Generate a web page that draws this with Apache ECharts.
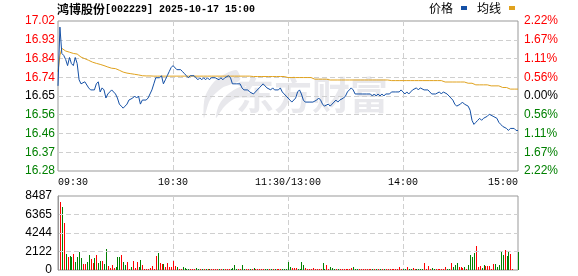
<!DOCTYPE html>
<html><head><meta charset="utf-8">
<script src="https://cdn.jsdelivr.net/npm/echarts@6/dist/echarts.min.js"></script>
<style>html,body{margin:0;padding:0;background:#fff}#c{width:578px;height:276px}</style>
</head><body><div id="c"></div>
<script>
const titleName = '鸿博股份';
const titleCode = '[002229] 2025-10-17 15:00';
const legendNames = ['价格', '均线'];
const priceTicks = ['16.28','16.37','16.46','16.56','16.65','16.74','16.84','16.93','17.02'];
const pctTicks = ['2.22%','1.67%','1.11%','0.56%','0.00%','0.56%','1.11%','1.67%','2.22%'];
const volTicks = ['0','2122','4244','6365','8487'];
const timeTickIndex = [0, 60, 120, 180, 240];
const timeTickLabels = ['09:30','10:30','11:30/13:00','14:00','15:00'];

const prices = [
16.70,16.99,16.86,16.85,16.83,16.80,16.84,16.81,16.80,16.84,
16.81,16.73,16.71,16.71,16.72,16.72,16.69,16.68,16.68,16.68,
16.71,16.72,16.67,16.69,16.68,16.64,16.66,16.67,16.68,16.68,
16.66,16.64,16.61,16.60,16.59,16.60,16.61,16.63,16.63,16.64,
16.65,16.64,16.65,16.61,16.63,16.63,16.63,16.64,16.66,16.68,
16.71,16.74,16.74,16.74,16.75,16.71,16.73,16.75,16.77,16.79,
16.80,16.80,16.78,16.78,16.78,16.77,16.76,16.75,16.74,16.75,
16.75,16.75,16.74,16.73,16.74,16.73,16.74,16.73,16.74,16.73,
16.74,16.74,16.74,16.74,16.73,16.74,16.73,16.74,16.74,16.75,
16.74,16.71,16.71,16.71,16.71,16.71,16.69,16.68,16.68,16.68,
16.67,16.67,16.66,16.67,16.67,16.69,16.70,16.71,16.70,16.69,
16.69,16.68,16.69,16.68,16.68,16.68,16.69,16.67,16.66,16.65,
16.64,16.63,16.62,16.62,16.64,16.67,16.68,16.66,16.63,16.62,
16.62,16.62,16.62,16.62,16.62,16.63,16.64,16.63,16.61,16.60,
16.60,16.61,16.60,16.61,16.62,16.63,16.62,16.63,16.63,16.64,
16.65,16.67,16.68,16.69,16.68,16.66,16.66,16.66,16.66,16.66,
16.66,16.66,16.66,16.66,16.65,16.66,16.65,16.66,16.65,16.66,
16.65,16.66,16.66,16.66,16.67,16.67,16.67,16.67,16.67,16.68,
16.67,16.66,16.67,16.66,16.67,16.68,16.68,16.69,16.68,16.69,
16.69,16.68,16.68,16.68,16.67,16.66,16.66,16.66,16.66,16.67,
16.66,16.67,16.67,16.66,16.65,16.64,16.63,16.61,16.60,16.60,
16.61,16.62,16.61,16.61,16.60,16.58,16.53,16.51,16.52,16.53,
16.54,16.53,16.54,16.54,16.55,16.56,16.56,16.55,16.55,16.54,
16.52,16.51,16.50,16.50,16.49,16.48,16.49,16.49,16.49,16.48,
16.48
];

const avgPrices = [
16.770,16.850,16.885,16.882,16.872,16.869,16.866,16.862,16.860,16.859,
16.857,16.852,16.842,16.838,16.834,16.832,16.826,16.822,16.817,16.812,
16.811,16.806,16.806,16.802,16.800,16.795,16.793,16.790,16.787,16.786,
16.785,16.784,16.777,16.773,16.768,16.765,16.763,16.762,16.760,16.760,
16.757,16.756,16.754,16.752,16.750,16.749,16.749,16.749,16.749,16.749,
16.748,16.748,16.748,16.748,16.748,16.748,16.748,16.748,16.748,16.748,
16.748,16.748,16.748,16.748,16.748,16.748,16.748,16.748,16.748,16.748,
16.748,16.748,16.748,16.748,16.748,16.748,16.748,16.748,16.748,16.748,
16.748,16.748,16.748,16.748,16.748,16.748,16.748,16.748,16.748,16.748,
16.748,16.748,16.748,16.748,16.748,16.748,16.748,16.748,16.748,16.748,
16.748,16.746,16.746,16.746,16.746,16.746,16.746,16.746,16.746,16.746,
16.746,16.746,16.746,16.746,16.746,16.746,16.746,16.746,16.746,16.746,
16.741,16.741,16.741,16.741,16.741,16.741,16.741,16.741,16.741,16.741,
16.741,16.741,16.741,16.733,16.733,16.733,16.733,16.733,16.733,16.733,
16.733,16.729,16.729,16.729,16.729,16.729,16.729,16.729,16.729,16.729,
16.729,16.729,16.729,16.729,16.729,16.729,16.729,16.729,16.729,16.729,
16.729,16.729,16.729,16.729,16.729,16.729,16.729,16.729,16.729,16.729,
16.729,16.729,16.729,16.726,16.726,16.726,16.726,16.726,16.726,16.726,
16.726,16.726,16.726,16.726,16.726,16.726,16.726,16.726,16.726,16.726,
16.726,16.726,16.726,16.726,16.726,16.726,16.726,16.726,16.726,16.726,
16.726,16.726,16.719,16.719,16.719,16.719,16.719,16.719,16.719,16.719,
16.719,16.719,16.719,16.713,16.713,16.713,16.713,16.713,16.705,16.705,
16.705,16.705,16.705,16.705,16.705,16.700,16.700,16.700,16.700,16.700,
16.700,16.692,16.692,16.692,16.692,16.684,16.684,16.684,16.684,16.684,
16.684
];

const volumes = [
8487,7800,7225,5390,1835,1529,1644,1529,1835,917,
1529,2064,1376,688,688,917,1720,1262,803,1376,
1720,803,1032,1032,688,2408,459,229,573,229,
344,1491,1491,1720,917,573,917,115,344,1032,
229,917,344,1147,573,115,115,115,229,459,
115,1606,1950,803,688,688,344,803,344,344,
1032,459,344,115,115,344,229,115,115,115,
115,115,229,115,115,115,115,115,115,115,
115,115,115,115,115,115,115,115,115,115,
115,229,573,115,115,115,573,115,115,115,
115,115,229,115,115,115,115,115,115,115,
115,115,115,115,115,115,115,115,115,115,
917,344,229,229,229,115,115,917,573,229,
115,115,115,229,115,115,115,115,803,115,
573,115,344,229,115,115,115,115,115,115,
115,115,115,229,344,115,115,115,115,115,
115,115,115,115,115,115,115,115,115,115,
115,115,115,115,115,115,115,115,344,115,
115,115,344,115,115,229,115,115,115,115,
115,803,115,459,115,229,115,115,115,115,
115,115,344,115,115,803,344,573,803,344,
344,229,344,115,573,1720,1491,1950,2753,344,
459,229,573,459,459,459,115,688,688,344,
573,2064,1720,2294,1606,2064,1835,115,0,0,
2064
];

// r = up (red), g = down (green)
const volDir = [
'rrgrgrggrg','gggrrggrrg','rggrggrrrr','gggrggrrgr','rrggrrrrrr',
'rrgrrgrrrr','rrgrrggggr','rrggrgrgrg','rrrrgrgrrr','ggggrrggrr',
'grgrrrrrgg','rgrgrrrggg','ggrrrggggr','rrrrrrrrgg','rrgggrgrrr',
'rrrrgggrrr','rrrrgrgrgr','grrrrrrrrr','ggrggrrggg','grrrrggrrr',
'rrrggrgggr','rrgrggggrr','rggrrrrrgg','gggrggrrrr','g'
].join('');

const times = [];
for (let m = 0; m <= 240; m++) {
  const t = m <= 120 ? 570 + m : 780 + (m - 120);
  times.push(String(Math.floor(t / 60)).padStart(2, '0') + ':' + String(t % 60).padStart(2, '0'));
}

const P_MIN = 16.28, P_MAX = 17.02, P_STEP = 0.0925;
const V_MAX = 8487, V_STEP = 2121.75;
const RED = '#ff0000', GREEN = '#008000';
const numFont = 'Liberation Sans';
const monoFont = 'Liberation Mono';
const cjkFont = 'Noto Sans CJK SC';

function pIdx(v) { return Math.round((v - P_MIN) / P_STEP); }
function pColor(v) { const i = pIdx(v); return i > 4 ? RED : (i < 4 ? GREEN : '#000'); }

const dash = { type: [5, 3], color: '#cfcfcf', width: 1 };
const WM = '#e8e8ec';

const chart = echarts.init(document.getElementById('c'), null, { renderer: 'canvas' });
chart.setOption({
  animation: false,
  backgroundColor: '#fff',
  title: {
    left: 57, top: 2, padding: 0,
    text: '{c|' + titleName + '}{a|' + titleCode + '}',
    textStyle: {
      rich: {
        c: { fontFamily: cjkFont, fontSize: 12, color: '#000', lineHeight: 14 },
        a: { fontFamily: monoFont, fontSize: 10, color: '#000', lineHeight: 14 }
      }
    }
  },
  legend: {
    data: legendNames, right: 63, top: 2, padding: 0,
    align: 'right', icon: 'rect', itemWidth: 6, itemHeight: 4, itemGap: 10,
    textStyle: { fontFamily: cjkFont, fontSize: 12, color: '#000', padding: [0, 3, 0, 0] }
  },
  graphic: [
    { type: 'text', x: 236, y: 76, z: 0, silent: true,
      style: { text: '东方财富', font: 'bold 38px "Noto Sans CJK SC"', fill: WM } },
    { type: 'polygon', z: 0, silent: true,
      shape: { points: [[236,70],[216,80],[205,97],[204,118],[210,100],[222,88],[240,80]], smooth: 0.3 },
      style: { fill: WM } },
    { type: 'polygon', z: 0, silent: true,
      shape: { points: [[244,86],[228,94],[219,105],[216,118],[224,107],[234,99],[248,95]], smooth: 0.3 },
      style: { fill: WM } }
  ],
  grid: [
    { left: 58, top: 21, width: 460, height: 150, show: true, borderColor: '#999', borderWidth: 1, backgroundColor: 'transparent' },
    { left: 58, top: 196, width: 460, height: 74, show: true, borderColor: '#999', borderWidth: 1, backgroundColor: 'transparent' }
  ],
  xAxis: [
    { type: 'category', gridIndex: 0, data: times, boundaryGap: false,
      axisLine: { show: false }, axisTick: { show: false },
      axisLabel: {
        interval: function (i) { return timeTickIndex.indexOf(i) >= 0; },
        formatter: function (v, i) { const k = timeTickIndex.indexOf(i); return k >= 0 ? timeTickLabels[k] : ''; },
        alignMinLabel: 'left', alignMaxLabel: 'right',
        margin: 6, fontFamily: monoFont, fontSize: 10, color: '#000'
      },
      splitLine: { show: true, interval: function (i) { return i === 60 || i === 120 || i === 180; }, lineStyle: dash }
    },
    { type: 'category', gridIndex: 1, data: times, boundaryGap: false,
      axisLine: { show: false }, axisTick: { show: false }, axisLabel: { show: false },
      splitLine: { show: true, interval: function (i) { return i === 60 || i === 120 || i === 180; }, lineStyle: dash }
    }
  ],
  yAxis: [
    { type: 'value', gridIndex: 0, min: P_MIN, max: P_MAX, interval: P_STEP, position: 'left',
      axisLine: { show: false }, axisTick: { show: false },
      splitLine: { show: true, showMinLine: false, showMaxLine: false, lineStyle: dash },
      axisLabel: { margin: 3, fontFamily: numFont, fontSize: 12,
        formatter: function (v) { return priceTicks[pIdx(v)]; },
        color: function (v) { return pColor(v); } }
    },
    { type: 'value', gridIndex: 0, min: P_MIN, max: P_MAX, interval: P_STEP, position: 'right',
      axisLine: { show: false }, axisTick: { show: false }, splitLine: { show: false },
      axisLabel: { margin: 6, fontFamily: numFont, fontSize: 12, align: 'left',
        formatter: function (v) { return pctTicks[pIdx(v)]; },
        color: function (v) { return pColor(v); } }
    },
    { type: 'value', gridIndex: 1, min: 0, max: V_MAX, interval: V_STEP, position: 'left', z: 5,
      axisLine: { show: true, lineStyle: { color: '#999', width: 1 } }, axisTick: { show: false },
      splitLine: { show: true, showMinLine: false, showMaxLine: false, lineStyle: dash },
      axisLabel: { margin: 6, fontFamily: numFont, fontSize: 12, color: '#000',
        formatter: function (v) { return volTicks[Math.round(v / V_STEP)]; } }
    }
  ],
  series: [
    { name: legendNames[0], type: 'line', xAxisIndex: 0, yAxisIndex: 0, data: prices,
      symbol: 'none', silent: true, z: 4, color: '#1450a6',
      lineStyle: { color: '#1450a6', width: 1 } },
    { name: legendNames[1], type: 'line', xAxisIndex: 0, yAxisIndex: 0, data: avgPrices,
      symbol: 'none', silent: true, z: 3, color: '#e0a21e',
      lineStyle: { color: '#e0a21e', width: 1 } },
    { type: 'custom', xAxisIndex: 1, yAxisIndex: 2, silent: true, z: 3,
      data: volumes.map(function (v, i) { return [i, v, volDir[i] === 'r' ? 1 : 0]; }),
      renderItem: function (params, api) {
        const top = api.coord([api.value(0), api.value(1)]);
        const base = api.coord([api.value(0), 0]);
        const x = Math.round(top[0]);
        const y0 = Math.round(top[1]);
        const y1 = Math.round(base[1]);
        return { type: 'rect', shape: { x: x, y: y0, width: 1, height: Math.max(0, y1 - y0) },
          style: { fill: api.value(2) ? RED : GREEN } };
      }
    }
  ]
});
if (prices.length !== 241 || avgPrices.length !== 241 || volumes.length !== 241 || volDir.length !== 241)
  console.error('length mismatch', prices.length, avgPrices.length, volumes.length, volDir.length);
</script></body></html>
